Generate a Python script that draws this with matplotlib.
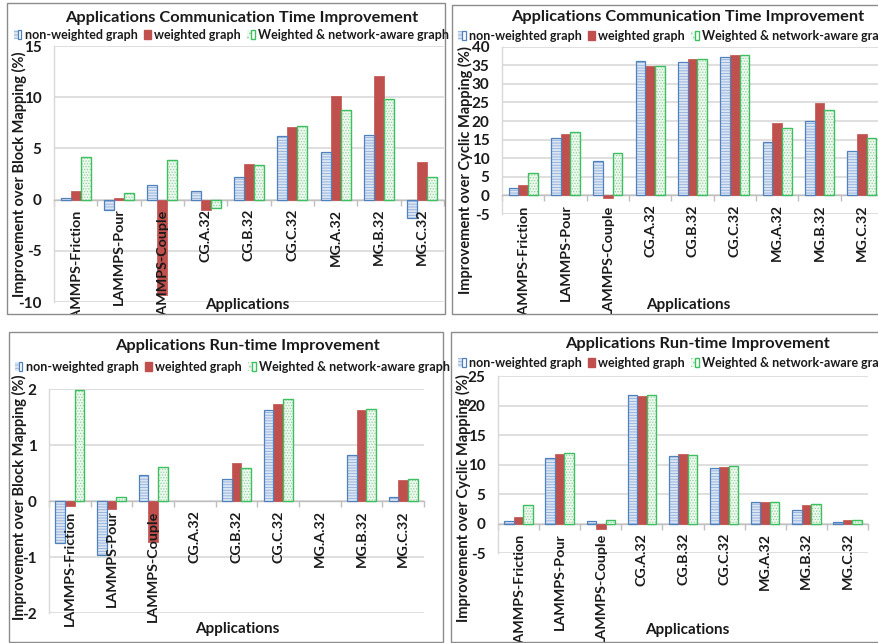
import numpy as np
import matplotlib
matplotlib.use("Agg")
import matplotlib.pyplot as plt
from matplotlib.patches import Rectangle, Patch
from matplotlib.transforms import Bbox, TransformedBbox
from matplotlib.legend_handler import HandlerTuple

plt.rcParams["font.family"] = ["Lato", "DejaVu Sans"]
plt.rcParams["font.weight"] = "bold"
plt.rcParams["hatch.linewidth"] = 0.6
plt.rcParams["axes.unicode_minus"] = False

nan = np.nan
apps = ["LAMMPS-Friction", "LAMMPS-Pour", "LAMMPS-Couple", "CG.A.32", "CG.B.32",
        "CG.C.32", "MG.A.32", "MG.B.32", "MG.C.32"]
series_names = ["non-weighted graph", "weighted graph", "Weighted & network-aware graph"]

comm_block_nw = [0.15, -1.0, 1.4, 0.85, 2.25, 6.2, 4.6, 6.3, -1.8]
comm_block_w = [0.85, 0.15, -9.3, -1.0, 3.45, 7.1, 10.1, 12.1, 3.65]
comm_block_wn = [4.15, 0.6, 3.85, -0.8, 3.4, 7.2, 8.75, 9.85, 2.2]

comm_cyclic_nw = [2.0, 15.5, 9.2, 36.1, 35.9, 37.1, 14.5, 20.0, 12.0]
comm_cyclic_w = [2.7, 16.5, -0.8, 34.7, 36.6, 37.7, 19.4, 24.8, 16.6]
comm_cyclic_wn = [6.0, 17.0, 11.5, 34.9, 36.6, 37.7, 18.1, 22.9, 15.4]

run_block_nw = [-0.75, -0.96, 0.47, nan, 0.40, 1.63, nan, 0.82, 0.08]
run_block_w = [-0.09, -0.14, -0.73, nan, 0.68, 1.73, nan, 1.63, 0.38]
run_block_wn = [1.99, 0.08, 0.62, nan, 0.59, 1.82, nan, 1.64, 0.39]

run_cyclic_nw = [0.5, 11.1, 0.45, 21.8, 11.5, 9.5, 3.7, 2.4, 0.35]
run_cyclic_w = [1.1, 11.8, -0.85, 21.7, 11.8, 9.6, 3.6, 3.2, 0.55]
run_cyclic_wn = [3.15, 12.05, 0.55, 21.8, 11.65, 9.75, 3.7, 3.3, 0.55]

comm_title = "Applications Communication Time Improvement"
run_title = "Applications Run-time Improvement"
ylab_block = "Improvement over Block Mapping (%)"
ylab_cyclic = "Improvement over Cyclic Mapping (%)"
xlab = "Applications"

W, H = 879, 643
fig = plt.figure(figsize=(W / 100, H / 100), dpi=100)


def fx(x):
    return x / W


def fy(y):
    return 1 - y / H


BLUE_E, BLUE_F, BLUE_H = "#4f81bd", "#dce6f2", "#8eaede"
RED = "#c0504d"
GREEN_E, GREEN_F, GREEN_H = "#3cc060", "#eef8ef", "#8fd49f"
GRID = "#d9d9d9"
BORDER = "#8c8c8c"
TXT = "#1a1a1a"


def panel(frame, plot, title, title_xy, leg_xy, ylabel, ylab_xy, xlab_xy,
          vals, ylim, ystep):
    fx0, fy0, fx1, fy1 = frame
    fig.patches.append(Rectangle((fx(fx0), fy(fy1)), (fx1 - fx0) / W, (fy1 - fy0) / H,
                                 transform=fig.transFigure, fill=False,
                                 edgecolor=BORDER, linewidth=1.0, zorder=5))
    clip = TransformedBbox(Bbox.from_extents(fx(fx0), fy(fy1), fx(fx1), fy(fy0)),
                           fig.transFigure)
    px0, py0, px1, py1 = plot
    ax = fig.add_axes([fx(px0), fy(py1), (px1 - px0) / W, (py1 - py0) / H])
    ax.set_facecolor("none")
    x = np.arange(len(apps))
    w = 0.23
    nw, wv, wn = vals
    ax.bar(x - w, nw, w, facecolor=BLUE_F, edgecolor=BLUE_H, linewidth=0,
           hatch="------", zorder=3)
    ax.bar(x - w, nw, w, facecolor="none", edgecolor=BLUE_E, linewidth=0.9, zorder=4)
    ax.bar(x, wv, w, facecolor=RED, edgecolor=RED, linewidth=0.5, zorder=3)
    ax.bar(x + w, wn, w, facecolor=GREEN_F, edgecolor=GREEN_H, linewidth=0,
           hatch="......", zorder=3)
    ax.bar(x + w, wn, w, facecolor="none", edgecolor=GREEN_E, linewidth=1.0, zorder=4)
    ax.set_xlim(-0.5, len(apps) - 0.5)
    ax.set_ylim(*ylim)
    ax.set_yticks(np.arange(ylim[0], ylim[1] + ystep / 2, ystep))
    ax.yaxis.grid(True, color=GRID, linewidth=1.2, zorder=0)
    ax.set_axisbelow(True)
    ax.tick_params(axis="y", length=0, pad=9, labelsize=11, labelcolor=TXT)
    for s in ("top", "right"):
        ax.spines[s].set_visible(False)
    ax.spines["left"].set_color(GRID)
    ax.spines["left"].set_linewidth(1.0)
    ax.spines["bottom"].set_position(("data", 0))
    ax.spines["bottom"].set_color("#bfbfbf")
    ax.spines["bottom"].set_linewidth(1.0)
    ax.set_xticks(x)
    ax.set_xticklabels([])
    ax.set_xticks(np.arange(-0.5, len(apps), 1.0), minor=True)
    ax.tick_params(axis="x", which="major", length=0)
    ax.tick_params(axis="x", which="minor", length=4, color="#bfbfbf", width=1)
    for xi, name in zip(x, apps):
        t = ax.annotate(name, (xi, 0), xytext=(0, -6.5), textcoords="offset points",
                        rotation=90, ha="center", va="top", fontsize=10.3,
                        fontweight="bold", color=TXT, annotation_clip=False, zorder=10)
        t.set_clip_box(clip)
        t.set_clip_on(True)
    fig.text(fx(title_xy[0]), fy(title_xy[1]), title, ha="center", va="center",
             fontsize=11.8, fontweight="bold", color=TXT)
    fig.text(fx(ylab_xy[0]), fy(ylab_xy[1]), ylabel, ha="center", va="center",
             rotation=90, fontsize=10.5, fontweight="bold", color=TXT)
    fig.text(fx(xlab_xy[0]), fy(xlab_xy[1]), xlab, ha="center", va="center",
             fontsize=11, fontweight="bold", color=TXT)
    h1 = (Patch(facecolor=BLUE_F, edgecolor=BLUE_H, linewidth=0, hatch="-----"),
          Patch(facecolor="none", edgecolor=BLUE_E, linewidth=0.9))
    h2 = Patch(facecolor=RED, edgecolor=RED)
    h3 = (Patch(facecolor=GREEN_F, edgecolor=GREEN_H, linewidth=0, hatch="...."),
          Patch(facecolor="none", edgecolor=GREEN_E, linewidth=1.0))
    leg = fig.legend([h1, h2, h3], series_names, loc="center left",
                     bbox_to_anchor=(fx(leg_xy[0]), fy(leg_xy[1])), ncol=3, frameon=False,
                     handlelength=0.6, handleheight=0.7, handletextpad=0.25,
                     columnspacing=0.5, borderpad=0, borderaxespad=0,
                     prop=dict(size=9.0, weight="bold"),
                     handler_map={tuple: HandlerTuple(ndivide=None, pad=0)})
    for t in leg.get_texts():
        t.set_color(TXT)
    return ax


panel((7, 3, 445, 314), (54, 46, 444, 302), comm_title, (242, 18), (14, 35),
      ylab_block, (19, 174), (247, 305),
      (comm_block_nw, comm_block_w, comm_block_wn), (-10, 15), 5)
panel((452, 5, 882, 314), (502, 46.7, 883, 214), comm_title, (688, 17), (458, 36),
      ylab_cyclic, (465, 170), (688, 305),
      (comm_cyclic_nw, comm_cyclic_w, comm_cyclic_wn), (-5, 40), 5)
panel((9, 332, 443, 642), (49, 389.3, 424, 613.3), run_title, (247, 346), (15, 367),
      ylab_block, (19, 497), (237, 629),
      (run_block_nw, run_block_w, run_block_wn), (-2, 2), 1)
panel((451, 332, 882, 642), (498, 376, 868, 553.3), run_title, (697, 344), (458, 363),
      ylab_cyclic, (463, 498), (687, 630),
      (run_cyclic_nw, run_cyclic_w, run_cyclic_wn), (-5, 25), 5)

fig.savefig("out.png", dpi=100)
